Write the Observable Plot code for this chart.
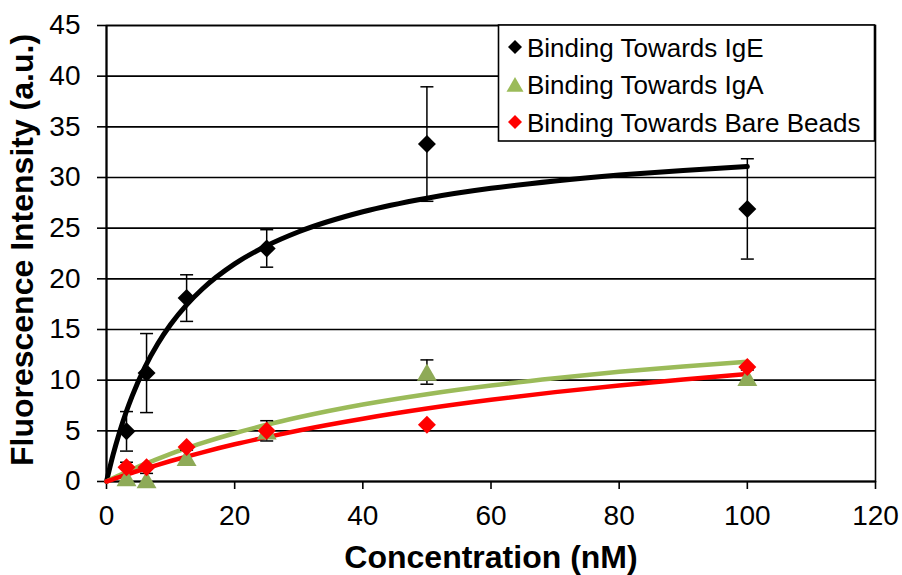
<!DOCTYPE html>
<html>
<head>
<meta charset="utf-8">
<script src="https://cdn.jsdelivr.net/npm/d3@7"></script>
<script src="https://cdn.jsdelivr.net/npm/@observablehq/plot@0.6"></script>
<style>
  html, body { margin: 0; padding: 0; background: #fff; }
  #chart { position: relative; width: 902px; height: 575px; }
</style>
</head>
<body>
<div id="chart"></div>
<script>
// ---- data ----
const concentrations = [3.125, 6.25, 12.5, 25, 50, 100];

const igeValues   = [4.95, 10.7, 18.1, 23.0, 33.3, 26.9];
const igeErrors   = [1.95, 3.9, 2.3, 1.85, 5.65, 4.95];

const igaValues   = [0.4, 0.2, 2.4, 5.0, 10.8, 10.3];
const igaErrors   = [1.5, 0.6, 0.7, 1.0, 1.2, 0.7];

const beadValues  = [1.4, 1.4, 3.4, 5.0, 5.6, 11.3];

// fitted curves
const curveX      = [0, 1, 2, 3, 4, 6, 8, 10, 12.5, 15, 20, 25, 30, 40, 50, 60, 70, 80, 90, 100];
const igeCurve    = [0, 2.57, 4.79, 6.73, 8.43, 11.29, 13.59, 15.49, 17.43, 19.02, 21.47, 23.27, 24.65, 26.62, 27.96, 28.93, 29.66, 30.24, 30.70, 31.08];
const igaCurve    = [0, 0.31, 0.62, 0.91, 1.19, 1.74, 2.24, 2.72, 3.29, 3.81, 4.76, 5.60, 6.34, 7.60, 8.62, 9.48, 10.20, 10.82, 11.36, 11.82];
const beadCurve   = [0, 0.22, 0.44, 0.65, 0.86, 1.26, 1.65, 2.02, 2.46, 2.88, 3.67, 4.38, 5.04, 6.20, 7.20, 8.06, 8.82, 9.48, 10.07, 10.60];

const xTicks = [0, 20, 40, 60, 80, 100, 120];
const yTicks = [0, 5, 10, 15, 20, 25, 30, 35, 40, 45];
const gridTicks = [5, 10, 15, 20, 25, 30, 35, 40, 45];

const seriesNames = ["Binding Towards IgE", "Binding Towards IgA", "Binding Towards Bare Beads"];
const xTitle = "Concentration (nM)";
const yTitle = "Fluorescence Intensity (a.u.)";

// ---- build tables ----
const ige  = concentrations.map((x, i) => ({x, y: igeValues[i], e: igeErrors[i]}));
const iga  = concentrations.map((x, i) => ({x, y: igaValues[i], e: igaErrors[i]}));
const bead = concentrations.map((x, i) => ({x, y: beadValues[i]}));
const igeFit  = curveX.map((x, i) => ({x, y: igeCurve[i]}));
const igaFit  = curveX.map((x, i) => ({x, y: igaCurve[i]}));
const beadFit = curveX.map((x, i) => ({x, y: beadCurve[i]}));

const errors = [...ige, ...iga];
const capsTop = errors.map(d => ({x: d.x, y: d.y + d.e}));
const capsBot = errors.map(d => ({x: d.x, y: d.y - d.e})).filter(d => d.y >= 0);

const capSymbol = { draw(ctx) { ctx.moveTo(-6.5, 0); ctx.lineTo(6.5, 0); } };

const black = "#000000", green = "#9bbb59", greenMarker = "#8eaa57", red = "#ff0000";
const font = "'Liberation Sans', Arial, sans-serif";

const svg = Plot.plot({
  width: 902,
  height: 575,
  marginLeft: 106,
  marginRight: 27,
  marginTop: 25,
  marginBottom: 94,
  style: { fontFamily: font, fontSize: "28px", background: "white", color: "black", overflow: "visible" },
  x: { domain: [0, 120], ticks: xTicks, tickSize: 8, tickPadding: 16, label: null },
  y: { domain: [0, 45], ticks: yTicks, tickSize: 9, tickPadding: 17, label: null },
  marks: [
    Plot.ruleY(gridTicks, { stroke: black, strokeWidth: 1.6 }),
    Plot.frame({ stroke: black, strokeWidth: 1.6 }),
    Plot.ruleX([0], { stroke: black, strokeWidth: 2 }),
    Plot.ruleY([0], { stroke: black, strokeWidth: 2 }),
    Plot.line(igeFit,  { x: "x", y: "y", stroke: black, strokeWidth: 5, curve: "monotone-x" }),
    Plot.line(igaFit,  { x: "x", y: "y", stroke: green, strokeWidth: 4.5, curve: "monotone-x" }),
    Plot.line(beadFit, { x: "x", y: "y", stroke: red, strokeWidth: 4.5, curve: "monotone-x" }),
    Plot.ruleX(errors, { x: "x", y1: d => Math.max(0, d.y - d.e), y2: d => d.y + d.e, stroke: black, strokeWidth: 1.5 }),
    Plot.dot(capsTop, { x: "x", y: "y", symbol: capSymbol, r: 5, stroke: black, fill: "none", strokeWidth: 1.5 }),
    Plot.dot(capsBot, { x: "x", y: "y", symbol: capSymbol, r: 5, stroke: black, fill: "none", strokeWidth: 1.5 }),
    Plot.dot(ige,  { x: "x", y: "y", symbol: "diamond2", r: 8.1, fill: black, stroke: "none" }),
    Plot.dot(iga,  { x: "x", y: "y", symbol: "triangle", r: 7.4, fill: greenMarker, stroke: "none", dy: 3 }),
    Plot.dot(bead, { x: "x", y: "y", symbol: "diamond2", r: 8.1, fill: red, stroke: "none" })
  ]
});

const root = d3.select(svg);
root.selectAll("g[aria-label*='axis'] text").style("font-size", "28px").style("font-family", font);
root.selectAll("g[aria-label*='axis'] path").attr("stroke-width", 1.6);

// axis titles
root.append("text")
  .attr("x", 491).attr("y", 568)
  .attr("text-anchor", "middle")
  .style("font-family", font).style("font-size", "32px").style("font-weight", "bold")
  .attr("fill", "black")
  .text(xTitle);
root.append("text")
  .attr("transform", "translate(33,250) rotate(-90)")
  .attr("text-anchor", "middle")
  .style("font-family", font).style("font-size", "32px").style("font-weight", "bold")
  .attr("fill", "black")
  .text(yTitle);

// legend
const lg = root.append("g");
lg.append("rect").attr("x", 498.5).attr("y", 25).attr("width", 376).attr("height", 116)
  .attr("fill", "white").attr("stroke", "black").attr("stroke-width", 1.6);
const legendSymbols = [
  { type: d3.symbolDiamond2, fill: black, dy: 0 },
  { type: d3.symbolTriangle, fill: green, dy: 2.4 },
  { type: d3.symbolDiamond2, fill: red, dy: 0 }
];
seriesNames.forEach((name, i) => {
  const cy = 47 + i * 37.5;
  const s = legendSymbols[i];
  lg.append("path")
    .attr("transform", `translate(515,${cy + s.dy})`)
    .attr("d", d3.symbol().type(s.type).size(125)())
    .attr("fill", s.fill);
  lg.append("text")
    .attr("x", 527).attr("y", cy + 9.5)
    .attr("text-anchor", "start")
    .style("font-family", font).style("font-size", "26px")
    .attr("fill", "black")
    .text(name);
});

document.getElementById("chart").appendChild(svg);
</script>
</body>
</html>
